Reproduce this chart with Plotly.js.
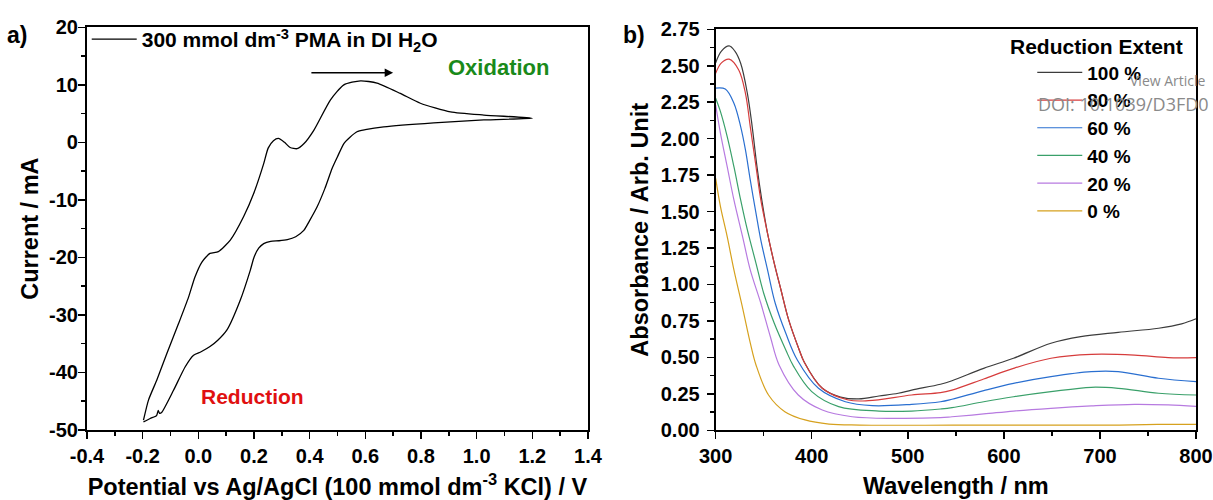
<!DOCTYPE html>
<html>
<head>
<meta charset="utf-8">
<script src="https://cdn.plot.ly/plotly-3.0.1.min.js"></script>
<style>html,body{margin:0;padding:0;background:#fff}#chart{width:1213px;height:500px}</style>
</head>
<body>
<div id="chart"></div>
<script>
// ---------- Panel a) cyclic voltammogram ----------
const cvPotential = [-0.197,-0.179,-0.149,-0.113,-0.071,-0.035,-0.012,0.013,0.042,0.072,0.115,0.163,0.199,0.235,0.251,0.270,0.288,0.310,0.330,0.355,0.380,0.415,0.475,0.523,0.583,0.642,0.726,0.798,0.906,1.026,1.200,
  1.026,0.846,0.666,0.600,0.570,0.545,0.523,0.500,0.481,0.455,0.427,0.400,0.379,0.350,0.320,0.290,0.260,0.235,0.217,0.200,0.187,0.151,0.103,0.070,0.042,0.010,-0.017,-0.047,-0.089,-0.131,-0.139,-0.144,-0.150,-0.173,-0.197];
const cvCurrent = [-48.3,-44.8,-41.3,-36.7,-31.5,-26.9,-23.4,-20.8,-19.3,-19.0,-17.0,-12.9,-8.9,-3.7,-1.0,0.3,0.7,0.0,-0.9,-1.1,-0.2,2.1,7.4,10.0,10.7,10.3,8.5,6.8,5.3,4.75,4.2,
  3.9,3.4,2.7,2.2,1.85,0.9,-0.2,-2.5,-4.5,-8.0,-11.2,-13.6,-15.3,-16.4,-16.9,-17.1,-17.2,-17.6,-18.4,-20.0,-22.2,-27.4,-32.6,-34.4,-35.5,-36.4,-37.0,-39.0,-43.1,-46.9,-47.1,-46.6,-47.5,-48.0,-48.6];
const cvName = '300 mmol dm<sup>-3</sup> PMA in DI H<sub>2</sub>O';
const potTickVals = [-0.4,-0.2,0.0,0.2,0.4,0.6,0.8,1.0,1.2,1.4];
const potTickText = ['-0.4','-0.2','0.0','0.2','0.4','0.6','0.8','1.0','1.2','1.4'];
const curTickVals = [-50,-40,-30,-20,-10,0,10,20];
const curTickText = ['-50','-40','-30','-20','-10','0','10','20'];

// ---------- Panel b) UV-vis spectra ----------
const seriesNames = ['100 %','80 %','60 %','40 %','20 %','0 %'];
const wl100 = [300,306,314,320,326,333,338,343,348,354,361,368,376,387,392,411,430,449,470,490,504,534,546,579,610,649,680,719,761,785,800];
const abs100 = [2.52,2.60,2.636,2.60,2.517,2.311,2.083,1.808,1.58,1.35,1.145,0.962,0.757,0.551,0.47,0.288,0.228,0.215,0.235,0.254,0.276,0.316,0.34,0.425,0.494,0.597,0.642,0.672,0.70,0.73,0.765];
const wl80 = [300,306,314,324,331,336,342,347,354,361,368,376,387,392,411,438,459,504,534,546,579,610,649,691,736,771,800];
const abs80 = [2.449,2.52,2.545,2.471,2.311,2.083,1.808,1.58,1.351,1.145,0.962,0.757,0.551,0.47,0.288,0.208,0.203,0.242,0.258,0.276,0.352,0.425,0.494,0.521,0.516,0.498,0.498];
const wl60 = [300,310,319,326,331,336,342,347,354,362,373,385,407,435,463,504,534,546,579,610,649,691,719,761,800];
const abs60 = [2.346,2.34,2.243,2.083,1.923,1.717,1.488,1.305,1.10,0.871,0.665,0.482,0.288,0.196,0.169,0.178,0.196,0.213,0.272,0.322,0.368,0.402,0.402,0.357,0.334];
const wl40 = [300,305,312,319,326,333,342,350,361,373,381,400,428,470,504,534,546,579,610,649,691,719,761,800];
const abs40 = [2.277,2.185,2.014,1.808,1.58,1.374,1.145,0.94,0.734,0.551,0.44,0.265,0.162,0.132,0.132,0.146,0.155,0.196,0.23,0.265,0.295,0.288,0.254,0.242];
const wl20 = [300,305,312,319,328,336,347,357,366,386,411,442,487,534,546,579,610,649,691,736,771,800];
const abs20 = [2.231,2.037,1.808,1.58,1.328,1.10,0.871,0.64,0.448,0.242,0.139,0.093,0.082,0.087,0.093,0.112,0.132,0.151,0.167,0.178,0.174,0.164];
const wl0 = [300,305,312,319,328,336,342,355,372,393,418,450,550,650,720,760,800];
const abs0 = [1.728,1.534,1.328,1.10,0.84,0.60,0.448,0.242,0.128,0.071,0.043,0.036,0.035,0.035,0.036,0.04,0.04];
const seriesColors = ['#3c3c3c','#d63c3c','#2a6fd0','#3aa06a','#b77ae0','#d6a11e'];
const absTickVals = [0,0.25,0.5,0.75,1.0,1.25,1.5,1.75,2.0,2.25,2.5,2.75];

const FONT = 'Liberation Sans, Arial, Helvetica, sans-serif';
const wlSets = [wl100,wl80,wl60,wl40,wl20,wl0];
const absSets = [abs100,abs80,abs60,abs40,abs20,abs0];

const traces = [{
  x: cvPotential, y: cvCurrent, type:'scatter', mode:'lines', name: cvName, showlegend:true,
  line:{color:'#000', width:1.3, shape:'spline', smoothing:0.6},
  xaxis:'x', yaxis:'y', legend:'legend'
}];
seriesNames.forEach((n,i)=>{
  traces.push({x: wlSets[i], y: absSets[i], type:'scatter', mode:'lines', name:n, showlegend:true,
    line:{color:seriesColors[i], width:1.2, shape:'spline', smoothing:1.0},
    xaxis:'x2', yaxis:'y2', legend:'legend2'});
});

const tickFont = {family:FONT, size:20, color:'#000', weight:'bold'};
const titleFont = {family:FONT, size:23.5, color:'#000', weight:'bold'};
const axisCommon = {showline:true, linecolor:'#000', linewidth:2, mirror:true, showgrid:false, zeroline:false,
  ticks:'outside', ticklen:7, tickwidth:1.5, tickcolor:'#000', tickfont:tickFont};

const layout = {
  width:1213, height:500, margin:{l:0,r:0,t:0,b:0}, showlegend:true,
  paper_bgcolor:'#fff', plot_bgcolor:'#fff',
  font:{family:FONT, color:'#000', weight:'bold'},
  xaxis: Object.assign({}, axisCommon, {domain:[0.0717,0.4847], range:[-0.4,1.4], anchor:'y',
    tickmode:'array', tickvals:potTickVals, ticktext:potTickText,
    minor:{tickmode:'linear', tick0:-0.4, dtick:0.1, ticks:'outside', ticklen:4, tickwidth:1.5, tickcolor:'#000'},
    title:{text:'Potential vs Ag/AgCl (100 mmol dm<sup>-3</sup> KCl) / V', font:titleFont, standoff:14}}),
  yaxis: Object.assign({}, axisCommon, {domain:[0.14,0.9454], range:[-50,20], anchor:'x',
    tickmode:'array', tickvals:curTickVals, ticktext:curTickText, ticklabelstandoff:-4,
    minor:{tickmode:'linear', tick0:-50, dtick:5, ticks:'outside', ticklen:4, tickwidth:1.5, tickcolor:'#000'},
    title:{text:'Current / mA', font:titleFont, standoff:4}}),
  xaxis2: Object.assign({}, axisCommon, {domain:[0.590,0.986], range:[300,800], anchor:'y2',
    tickmode:'linear', tick0:300, dtick:100,
    minor:{tickmode:'linear', tick0:300, dtick:50, ticks:'outside', ticklen:4, tickwidth:1.5, tickcolor:'#000'},
    title:{text:'Wavelength / nm', font:titleFont, standoff:11}}),
  yaxis2: Object.assign({}, axisCommon, {domain:[0.1394,0.9414], range:[0,2.75], anchor:'x2',
    tickmode:'array', tickvals:absTickVals, tickformat:'.2f', ticklabelstandoff:3,
    minor:{tickmode:'linear', tick0:0, dtick:0.125, ticks:'outside', ticklen:4, tickwidth:1.5, tickcolor:'#000'},
    title:{text:'Absorbance / Arb. Unit', font:titleFont, standoff:6}}),
  legend:{x:0.0715, y:0.962, xanchor:'left', yanchor:'top', bgcolor:'rgba(0,0,0,0)', borderwidth:0,
    font:{family:FONT, size:21, color:'#000', weight:'bold'}, itemwidth:45},
  legend2:{x:0.851, y:0.893, xanchor:'left', yanchor:'top', bgcolor:'rgba(0,0,0,0)', borderwidth:0,
    font:{family:FONT, size:19, color:'#000', weight:'bold'}, itemwidth:45},
  annotations:[
    {xref:'paper', yref:'paper', x:0.004, y:0.93, xanchor:'left', yanchor:'middle', text:'a)', showarrow:false,
      font:{family:FONT, size:23, color:'#000', weight:'bold'}},
    {xref:'paper', yref:'paper', x:0.512, y:0.93, xanchor:'left', yanchor:'middle', text:'b)', showarrow:false,
      font:{family:FONT, size:23, color:'#000', weight:'bold'}},
    {xref:'x', yref:'y', x:1.079, y:13.0, text:'Oxidation', showarrow:false,
      font:{family:FONT, size:22, color:'#1a8a1a', weight:'bold'}},
    {xref:'x', yref:'y', x:0.194, y:-44.1, text:'Reduction', showarrow:false,
      font:{family:FONT, size:21, color:'#e01010', weight:'bold'}},
    {xref:'x', yref:'y', axref:'x', ayref:'y', x:0.70, y:12.1, ax:0.401, ay:12.1, text:'', showarrow:true,
      arrowhead:2, arrowsize:1.3, arrowwidth:1.3, arrowcolor:'#000'},
    {xref:'paper', yref:'paper', x:0.977, y:0.906, xanchor:'right', yanchor:'middle', text:'Reduction Extent', showarrow:false,
      font:{family:FONT, size:21, color:'#000', weight:'bold'}},
    {xref:'paper', yref:'paper', x:1128/1213, y:1-80/500, xanchor:'left', yanchor:'middle', text:'View Article', showarrow:false,
      font:{family:'Open Sans, Noto Sans, sans-serif', size:14, color:'#8a8a8a', weight:'normal'}},
    {xref:'paper', yref:'paper', x:1036/1213, y:1-104/500, xanchor:'left', yanchor:'middle', text:'DOI: 10.1039/D3FD0', showarrow:false,
      font:{family:'Open Sans, Noto Sans, sans-serif', size:18, color:'#8a8a8a', weight:'normal'}}
  ]
};

Plotly.newPlot('chart', traces, layout, {displayModeBar:false, staticPlot:true});
</script>
</body>
</html>
